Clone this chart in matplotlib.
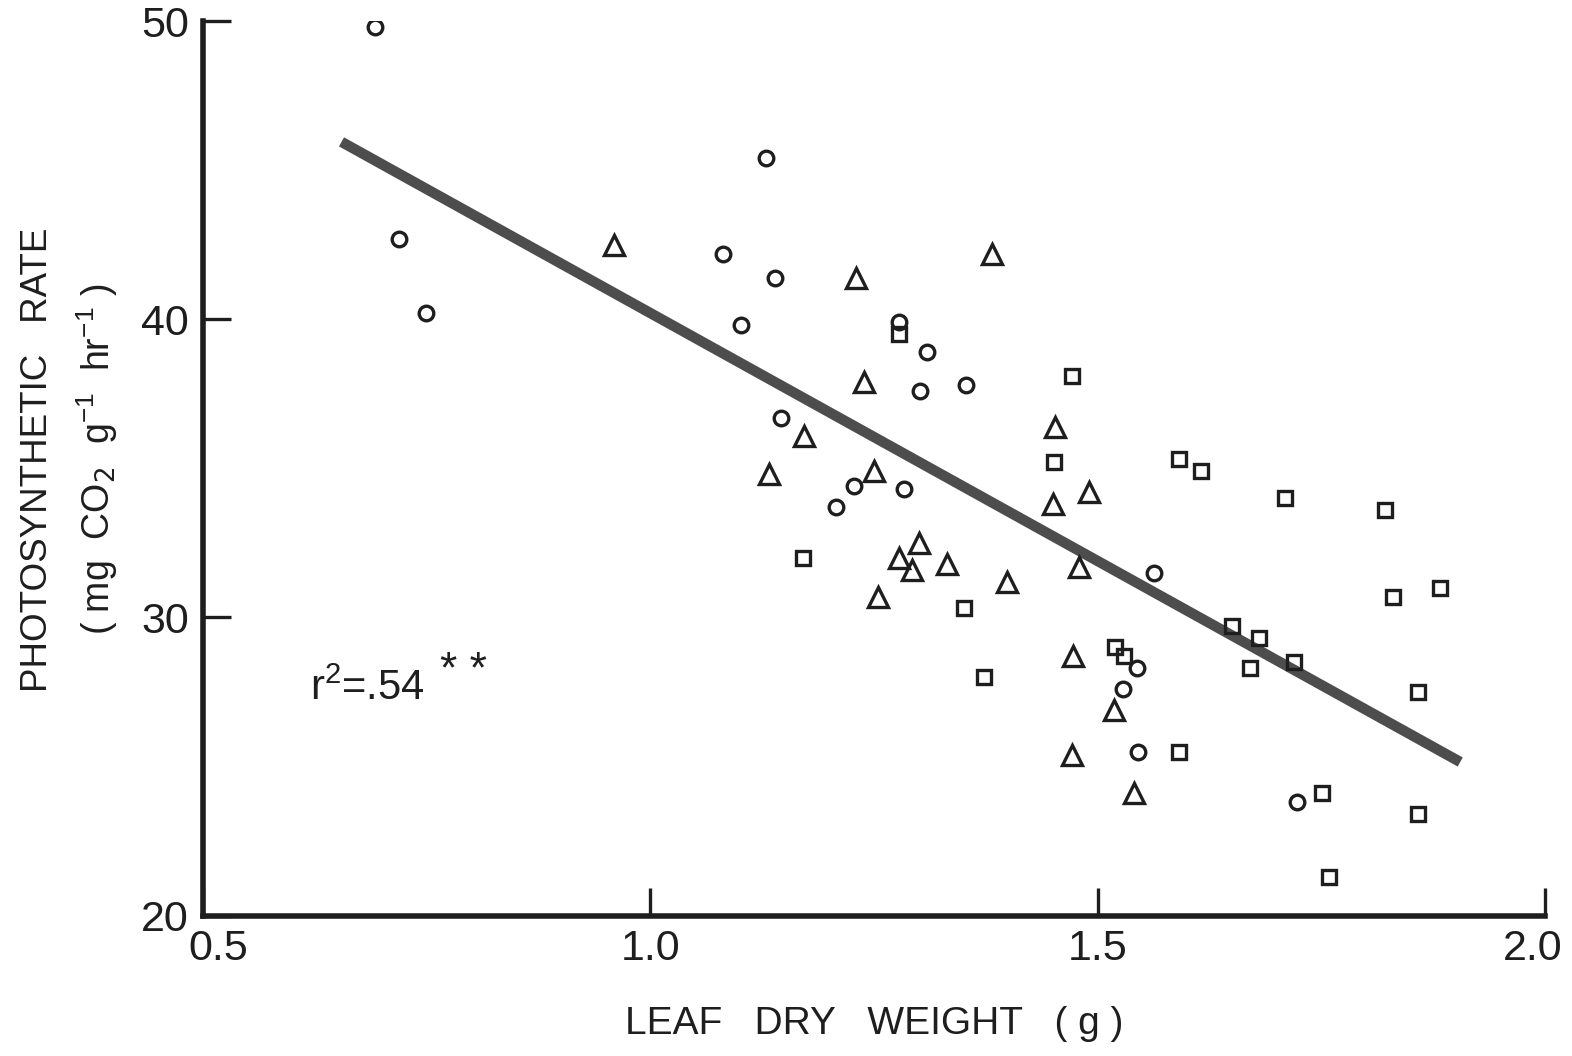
import numpy as np
import matplotlib
matplotlib.use("Agg")
import matplotlib.pyplot as plt
from matplotlib.transforms import ScaledTranslation

plt.rcParams['font.family'] = ['Liberation Sans Narrow', 'Liberation Sans', 'DejaVu Sans']

# leaf dry weight (g) and photosynthetic rate (mg CO2 g-1 hr-1), by group
circle_x = [0.692, 0.719, 0.749, 1.129, 1.081, 1.139, 1.101, 1.278, 1.309, 1.301,
            1.353, 1.146, 1.228, 1.207, 1.283, 1.563, 1.544, 1.528, 1.545, 1.723]
circle_y = [49.8, 42.7, 40.2, 45.4, 42.2, 41.4, 39.8, 39.9, 38.9, 37.6,
            37.8, 36.7, 34.4, 33.7, 34.3, 31.5, 28.3, 27.6, 25.5, 23.8]

triangle_x = [0.960, 1.230, 1.382, 1.239, 1.452, 1.172, 1.133, 1.250, 1.450, 1.490,
              1.300, 1.278, 1.292, 1.331, 1.399, 1.254, 1.479, 1.472, 1.518, 1.471, 1.541]
triangle_y = [42.5, 41.4, 42.2, 37.9, 36.4, 36.1, 34.8, 34.9, 33.8, 34.2,
              32.5, 32.0, 31.6, 31.8, 31.2, 30.7, 31.7, 28.7, 26.9, 25.4, 24.1]

square_x = [1.278, 1.471, 1.451, 1.591, 1.615, 1.709, 1.821, 1.171, 1.351, 1.830,
            1.882, 1.650, 1.680, 1.719, 1.670, 1.519, 1.529, 1.373, 1.591, 1.858,
            1.751, 1.858, 1.758]
square_y = [39.5, 38.1, 35.2, 35.3, 34.9, 34.0, 33.6, 32.0, 30.3, 30.7,
            31.0, 29.7, 29.3, 28.5, 28.3, 29.0, 28.7, 28.0, 25.5, 27.5,
            24.1, 23.4, 21.3]

# regression line end points
fit_x = [0.655, 1.905]
fit_y = [45.95, 25.15]

x_ticks = [0.5, 1.0, 1.5, 2.0]
x_tick_labels = ['0.5', '1.0', '1.5', '2.0']
y_ticks = [20, 30, 40, 50]

ink = '#1e1e1e'

fig = plt.figure(figsize=(15.72, 10.56), dpi=100)
ax = fig.add_axes([0.129, 0.133, 0.854, 0.847])

ax.plot(fit_x, fit_y, color='#4d4d4d', lw=7.5, solid_capstyle='butt', zorder=2)

mk = dict(linestyle='none', markerfacecolor='none', markeredgecolor=ink,
          markeredgewidth=2.4, zorder=3)
ax.plot(circle_x, circle_y, marker='o', markersize=10.5, **mk)
ax.plot(triangle_x, triangle_y, marker='^', markersize=14, **mk)
ax.plot(square_x, square_y, marker='s', markersize=10.5, **mk)

ax.set_xlim(0.5, 2.0)
ax.set_ylim(20, 50)
ax.set_xticks(x_ticks)
ax.set_xticklabels(x_tick_labels)
ax.set_yticks(y_ticks)

for side in ['top', 'right']:
    ax.spines[side].set_visible(False)
for side in ['left', 'bottom']:
    ax.spines[side].set_linewidth(4)
    ax.spines[side].set_color(ink)

ax.tick_params(axis='both', direction='in', length=20, width=2.4,
               labelsize=31, pad=10, colors=ink)

# nudge the end labels of the x axis inward
xlabels = ax.get_xticklabels()
xlabels[0].set_transform(xlabels[0].get_transform() +
                         ScaledTranslation(0.15, 0, fig.dpi_scale_trans))
xlabels[-1].set_transform(xlabels[-1].get_transform() +
                          ScaledTranslation(-0.13, 0, fig.dpi_scale_trans))

ax.set_xlabel('LEAF   DRY   WEIGHT   ( g )', fontsize=28, labelpad=26, color=ink)
fig.text(0.024, 0.565, 'PHOTOSYNTHETIC   RATE', rotation=90, fontsize=26.5,
         ha='center', va='center', color=ink)
fig.text(0.062, 0.565, r'( mg  CO$_2$  g$^{\mathregular{-1}}$  hr$^{\mathregular{-1}}$ )',
         rotation=90, fontsize=27, ha='center', va='center', color=ink)

ax.text(0.62, 27.6, r'r$^{\mathregular{2}}$=.54', fontsize=30, color=ink,
        va='center')
ax.text(0.765, 28.2, '* *', fontsize=32, color=ink, va='center')

fig.savefig('out.png', dpi=100, facecolor='white')
